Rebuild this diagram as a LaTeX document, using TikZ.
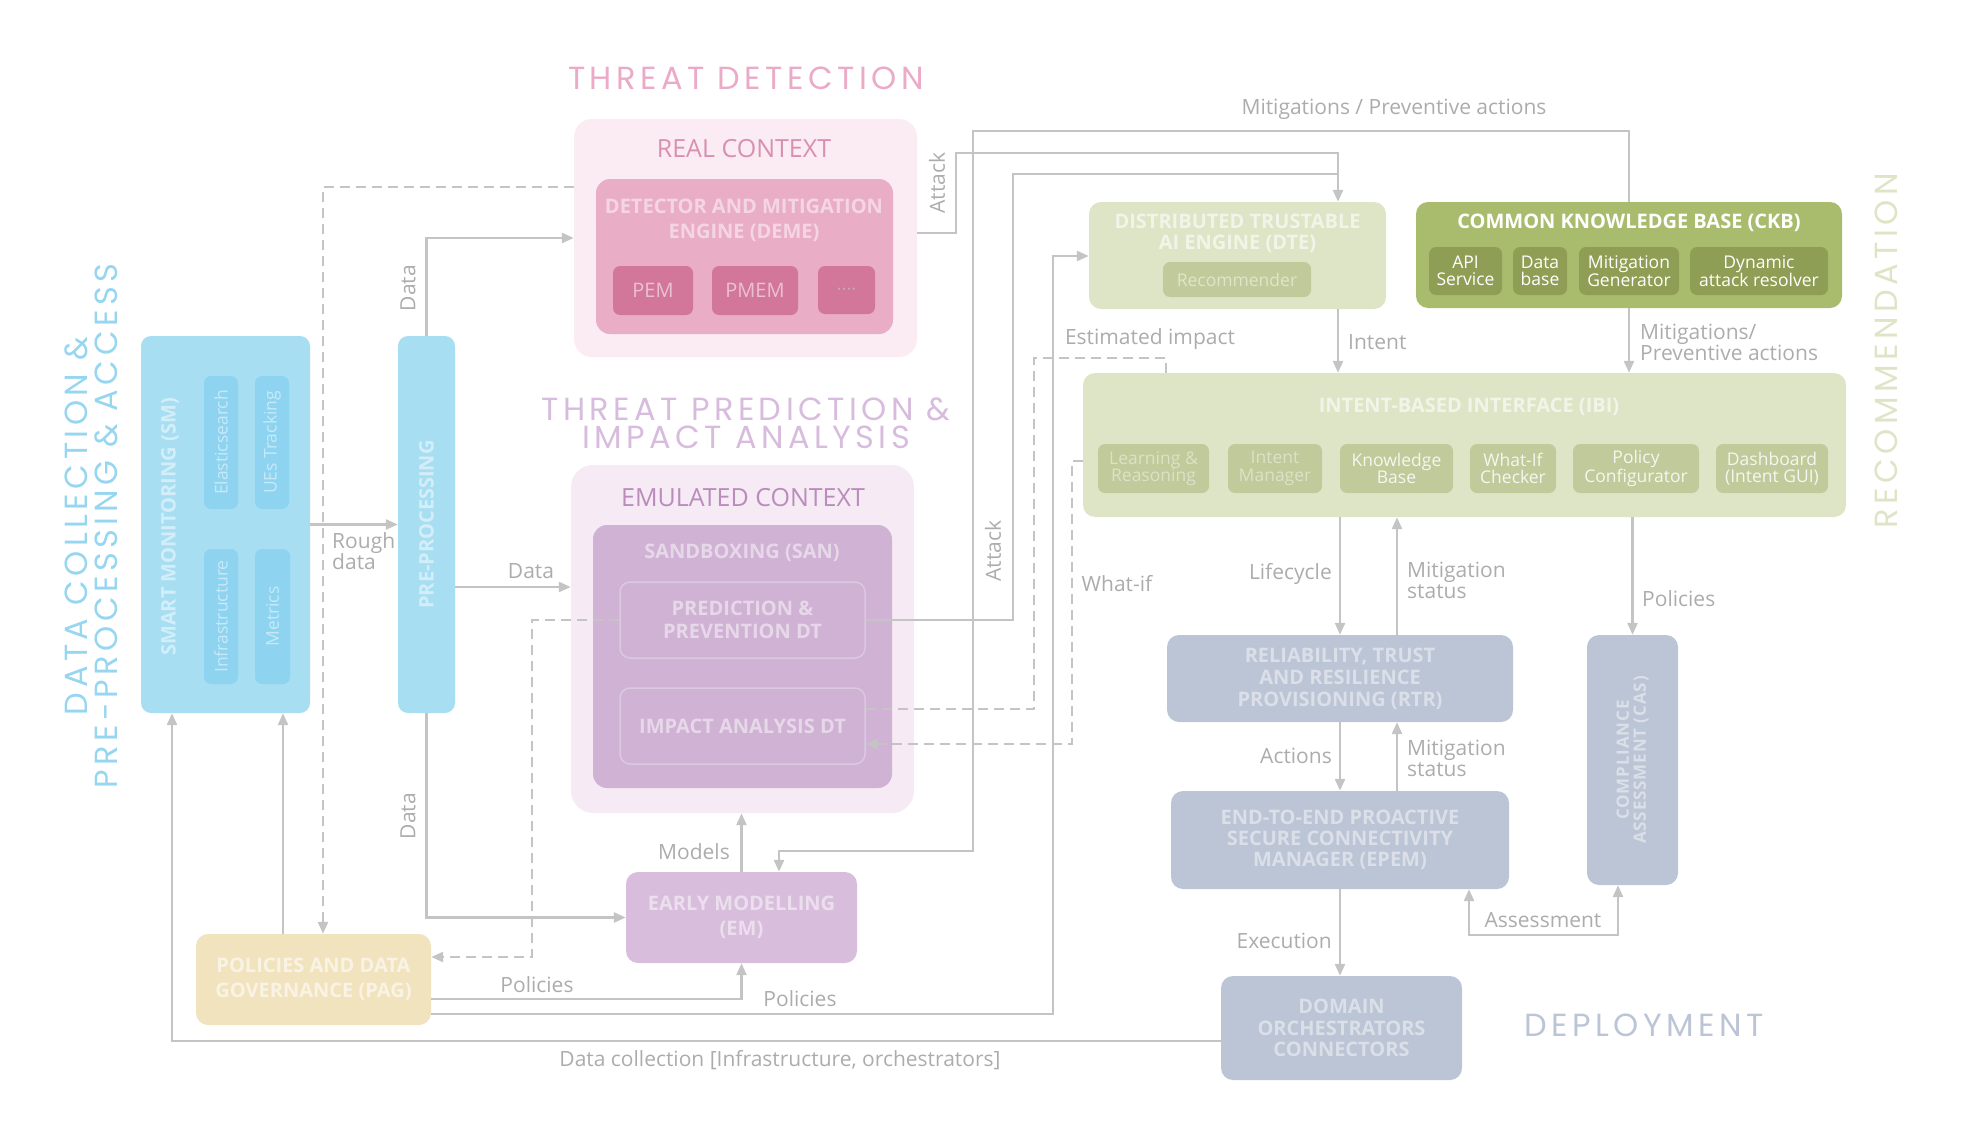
\documentclass[tikz,border=0pt]{standalone}
\usepackage{fontspec}
\setmainfont{Open Sans}
\newfontfamily\areafont[LetterSpace=14]{Poppins}
\newfontfamily\spacedfont[LetterSpace=5]{Open Sans}
\usepackage{tikz}
\usetikzlibrary{arrows.meta}
\definecolor{linegray}{RGB}{196,196,196}
\definecolor{labelgray}{RGB}{172,172,172}
\definecolor{tdpink}{RGB}{234,170,200}
\definecolor{tppurple}{RGB}{216,188,222}
\definecolor{dcblue}{RGB}{150,214,240}
\definecolor{recgreen}{RGB}{222,229,198}
\definecolor{depgray}{RGB}{188,197,214}
\definecolor{smblue}{RGB}{167,222,242}
\definecolor{sminner}{RGB}{142,212,240}
\definecolor{realfill}{RGB}{251,235,242}
\definecolor{realtext}{RGB}{217,143,176}
\definecolor{demefill}{RGB}{233,174,197}
\definecolor{pemfill}{RGB}{210,118,154}
\definecolor{dotgray}{RGB}{196,178,186}
\definecolor{emufill}{RGB}{246,234,244}
\definecolor{emutext}{RGB}{185,140,188}
\definecolor{sanfill}{RGB}{208,178,212}
\definecolor{dtline}{RGB}{220,200,224}
\definecolor{emfill}{RGB}{216,190,220}
\definecolor{pagfill}{RGB}{242,227,191}
\definecolor{recfill}{RGB}{222,229,198}
\definecolor{recsub}{RGB}{192,202,154}
\definecolor{ckbfill}{RGB}{169,188,110}
\definecolor{ckbsub}{RGB}{142,158,85}
\definecolor{depfill}{RGB}{188,197,214}
\tikzset{
  box-text/.style={text=white, text opacity=0.5, font=\fontsize{20}{22}\selectfont\bfseries,
    align=center, inner sep=0pt},
  core-node/.style={box-text, rounded corners=12pt},
  ctx-box/.style={rounded corners=18pt, inner sep=0pt},
  ctx-label/.style={font=\fontsize{25}{25}\selectfont, inner sep=0pt},
  sub-node/.style={rounded corners=7pt, inner sep=0pt, align=center, text=white,
    font=\fontsize{17.5}{17.5}\selectfont},
  flow-line/.style={line width=2.6pt, draw=linegray},
  flow-arrow/.style={flow-line, -{Triangle[length=12pt,width=10pt]}},
  dash-line/.style={flow-line, dash pattern=on 10pt off 6pt},
  dash-arrow/.style={flow-arrow, dash pattern=on 10pt off 6pt},
  edge-label/.style={font=\fontsize{21}{21}\selectfont, text=labelgray, inner sep=0pt, align=left},
  area-title/.style={font=\areafont\fontsize{32}{30}\selectfont, align=center, inner sep=0pt}
}
\begin{document}
\begin{tikzpicture}[x=1pt, y=-1pt]
\useasboundingbox (0,0) rectangle (1965,1148);

% Area titles
\node[area-title, text=tdpink] (tdtitle) at (746,78) {THREAT DETECTION};
\node[area-title, text=tppurple, text height=22pt, text depth=0pt] (tptitlea) at (746,409) {THREAT PREDICTION \&};
\node[area-title, text=tppurple, text height=22pt, text depth=0pt] (tptitleb) at (746,437) {IMPACT ANALYSIS};
\node[area-title, text=dcblue, rotate=90] (dctitle) at (91,526) {DATA COLLECTION \&\\PRE-PROCESSING \& ACCESS};
\node[area-title, text=recgreen, rotate=90] (rectitle) at (1886,351) {RECOMMENDATION};
\node[area-title, text=depgray] (deptitle) at (1644,1025) {DEPLOYMENT};

% Data collection and pre-processing
\node[core-node, fill=smblue, minimum width=169pt, minimum height=377pt, rounded corners=10pt] (sm) at (225.5,524.5) {};
\node[box-text, rotate=90] (smtxt) at (170,527) {SMART MONITORING (SM)};
\node[sub-node, fill=sminner, rotate=90, minimum width=133pt, minimum height=34pt, text opacity=0.5] (elastic) at (221,442.5) {Elasticsearch};
\node[sub-node, fill=sminner, rotate=90, minimum width=133pt, minimum height=34pt, text opacity=0.5] (uetrack) at (272,442.5) {UEs Tracking};
\node[sub-node, fill=sminner, rotate=90, minimum width=135pt, minimum height=34pt, text opacity=0.5] (infra) at (221,616.5) {Infrastructure};
\node[sub-node, fill=sminner, rotate=90, minimum width=135pt, minimum height=35pt, text opacity=0.5] (metrics) at (272.5,616.5) {Metrics};
\node[core-node, fill=smblue, minimum width=57pt, minimum height=377pt, rounded corners=10pt] (pre) at (426.5,524.5) {};
\node[box-text, rotate=90] (pretxt) at (pre.center) {PRE-PROCESSING};
\node[core-node, fill=pagfill, minimum width=235pt, minimum height=91pt, text opacity=0.6,
  font=\fontsize{20}{25}\selectfont\bfseries] (pag) at (313.5,979.5) {POLICIES AND DATA\\GOVERNANCE (PAG)};

% Threat detection
\node[ctx-box, fill=realfill, minimum width=343pt, minimum height=238pt] (realctx) at (745.5,238) {};
\node[ctx-label, text=realtext] (reallbl) at (744,149) {REAL CONTEXT};
\node[core-node, fill=demefill, minimum width=297pt, minimum height=155pt, rounded corners=14pt] (deme) at (744.5,256.5) {};
\node[box-text, font=\fontsize{20}{25}\selectfont\bfseries] (demetxt) at (744,220.5) {DETECTOR AND MITIGATION\\ENGINE (DEME)};
\node[sub-node, fill=pemfill, minimum width=80pt, minimum height=49pt, text opacity=0.55, font=\fontsize{20}{20}\selectfont] (pem) at (653,290.5) {PEM};
\node[sub-node, fill=pemfill, minimum width=86pt, minimum height=49pt, text opacity=0.55, font=\fontsize{20}{20}\selectfont] (pmem) at (755,290.5) {PMEM};
\node[sub-node, fill=pemfill, minimum width=57pt, minimum height=48pt, text=dotgray, font=\fontsize{9}{9}\selectfont] (moreeng) at (846.5,290) {\textbullet\,\textbullet\,\textbullet\,\textbullet};

% Threat prediction and impact analysis
\node[ctx-box, fill=emufill, minimum width=343pt, minimum height=348pt, rounded corners=22pt] (emuctx) at (742.5,639) {};
\node[ctx-label, text=emutext] (emulbl) at (743,498) {EMULATED CONTEXT};
\node[core-node, fill=sanfill, minimum width=299pt, minimum height=263pt, rounded corners=14pt] (san) at (742.5,656.5) {};
\node[box-text] (santxt) at (742,553) {SANDBOXING (SAN)};
\node[core-node, draw=dtline, line width=1.5pt, minimum width=245pt, minimum height=76pt, rounded corners=10pt,
  font=\fontsize{20}{23}\selectfont\bfseries] (ppdt) at (742.5,620) {PREDICTION \&\\PREVENTION DT};
\node[core-node, draw=dtline, line width=1.5pt, minimum width=245pt, minimum height=76pt, rounded corners=10pt] (iadt) at (742.5,726) {IMPACT ANALYSIS DT};
\node[core-node, fill=emfill, minimum width=231pt, minimum height=91pt,
  font=\fontsize{20}{25}\selectfont\bfseries] (em) at (741.5,917.5) {EARLY MODELLING\\(EM)};

% Recommendation
\node[core-node, fill=recfill, minimum width=297pt, minimum height=107pt] (dte) at (1237.5,255.5) {};
\node[box-text, text opacity=0.6, font=\fontsize{20}{21}\selectfont\bfseries] (dtetxt) at (1237.5,233.5) {DISTRIBUTED TRUSTABLE\\AI ENGINE (DTE)};
\node[sub-node, fill=recsub, minimum width=148pt, minimum height=35pt, text opacity=0.5] (recom) at (1237,279.5) {Recommender};
\node[core-node, fill=ckbfill, minimum width=426pt, minimum height=106pt] (ckb) at (1629,255) {};
\node[box-text, text opacity=1] (ckbtxt) at (1629,223) {COMMON KNOWLEDGE BASE (CKB)};
\node[sub-node, fill=ckbsub, minimum width=73pt, minimum height=48pt] (apisrv) at (1465.5,271) {API\\Service};
\node[sub-node, fill=ckbsub, minimum width=54pt, minimum height=48pt] (database) at (1540,271) {Data\\base};
\node[sub-node, fill=ckbsub, minimum width=100pt, minimum height=48pt] (mitgen) at (1629,271) {Mitigation\\Generator};
\node[sub-node, fill=ckbsub, minimum width=138pt, minimum height=48pt] (dynres) at (1759,271) {Dynamic\\attack resolver};
\node[core-node, fill=recfill, minimum width=763pt, minimum height=144pt] (ibi) at (1464.5,445) {};
\node[box-text, text opacity=0.6] (ibitxt) at (1469,407) {INTENT-BASED INTERFACE (IBI)};
\node[sub-node, fill=recsub, minimum width=111pt, minimum height=49pt, text opacity=0.45] (learn) at (1153.5,468.5) {Learning \&\\Reasoning};
\node[sub-node, fill=recsub, minimum width=94pt, minimum height=49pt, text opacity=0.45] (intman) at (1275,468.5) {Intent\\Manager};
\node[sub-node, fill=recsub, minimum width=113pt, minimum height=49pt, text opacity=0.85] (kbase) at (1396.5,468.5) {Knowledge\\Base};
\node[sub-node, fill=recsub, minimum width=86pt, minimum height=49pt, text opacity=0.85] (whatif) at (1513,468.5) {What-If\\Checker};
\node[sub-node, fill=recsub, minimum width=126pt, minimum height=49pt, text opacity=0.85] (polconf) at (1636,468.5) {Policy\\Configurator};
\node[sub-node, fill=recsub, minimum width=112pt, minimum height=49pt, text opacity=0.85] (dashgui) at (1772,468.5) {Dashboard\\(Intent GUI)};

% Deployment
\node[core-node, fill=depfill, minimum width=346pt, minimum height=87pt, text opacity=0.45] (rtr) at (1340,678.5) {RELIABILITY, TRUST\\AND RESILIENCE\\PROVISIONING (RTR)};
\node[core-node, fill=depfill, minimum width=338pt, minimum height=98pt, text opacity=0.45,
  font=\fontsize{20}{21}\selectfont\bfseries] (epem) at (1340,840) {END-TO-END PROACTIVE\\SECURE CONNECTIVITY\\MANAGER (EPEM)};
\node[core-node, fill=depfill, minimum width=241pt, minimum height=104pt, text opacity=0.45,
  font=\fontsize{20}{21.5}\selectfont\bfseries] (doc) at (1341.5,1028) {DOMAIN\\ORCHESTRATORS\\CONNECTORS};
\node[core-node, fill=depfill, minimum width=91pt, minimum height=250pt] (cas) at (1632.5,760) {};
\node[box-text, rotate=90, text opacity=0.45, font=\spacedfont\fontsize{17}{17}\selectfont\bfseries] (castxt) at (cas.center) {COMPLIANCE\\ASSESSMENT (CAS)};

% Connectors: data collection side
\draw[flow-arrow] (sm.east) -- (pre.west);
\draw[flow-arrow] (pre.north) |- (realctx.west);
\draw[flow-arrow] (pre.east |- 0,587) -- (emuctx.west |- 0,587);
\draw[flow-arrow] (pre.south) |- (em.west);
\draw[dash-arrow] (realctx.west |- 0,187) -| ([xshift=9.5pt]pag.north);
\draw[dash-arrow] (ppdt.west) -| (532,957) -- (pag.east |- 0,957);
\draw[flow-arrow] (pag.north -| 283,0) -- (sm.south -| 283,0);
\draw[flow-arrow] (doc.west |- 0,1041) -| (sm.south -| 172,0);
\draw[flow-arrow] (pag.east |- 0,999) -| (em.south);
\draw[flow-arrow] (pag.east |- 0,1014) -| (1053,256) -- (dte.west |- 0,256);
\draw[flow-arrow] (em.north) -- (em.north |- emuctx.south);

% Connectors: threat paths towards recommendation
\coordinate (atkjoin) at (1338,174);
\draw[flow-arrow] (realctx.east |- 0,233) -| (956,153) -| (dte.north -| atkjoin);
\draw[flow-line] (ppdt.east) -| (1013,174) -- (atkjoin);
\draw[flow-arrow] (ckb.north) |- (973,131) |- (779,851) -- (em.north -| 779,0);
\draw[dash-line] (iadt.east |- 0,709) -| (1034,358) -| (ibi.north -| 1166,0);
\draw[dash-arrow] (ibi.west |- 0,461) -| (1072,744) -- (iadt.east |- 0,744);
\draw[flow-arrow] (dte.south -| atkjoin) -- (ibi.north -| atkjoin);
\draw[flow-arrow] (ckb.south) -- (ibi.north -| ckb.south);

% Connectors: deployment
\draw[flow-arrow] (ibi.south -| rtr.north) -- (rtr.north);
\draw[flow-arrow] (rtr.north -| 1397,0) -- (ibi.south -| 1397,0);
\draw[flow-arrow] (rtr.south) -- (epem.north);
\draw[flow-arrow] (epem.north -| 1397,0) -- (rtr.south -| 1397,0);
\draw[flow-arrow] (ibi.south -| cas.north) -- (cas.north);
\draw[flow-arrow] (epem.south) -- (epem.south |- doc.north);
\draw[flow-arrow, {Triangle[length=12pt,width=10pt]}-{Triangle[length=12pt,width=10pt]}] (cas.south -| 1618,0) |- (1469,935) -- (epem.south -| 1469,0);

% Connector labels
\node[edge-label, anchor=west] (lblrough) at (332,551.5) {Rough\\data};
\node[edge-label, rotate=90] (lbldata1) at (408,288) {Data};
\node[edge-label] (lbldata2) at (531,571) {Data};
\node[edge-label, rotate=90] (lbldata3) at (408,816) {Data};
\node[edge-label, rotate=90] (lblatk1) at (937,183) {Attack};
\node[edge-label, rotate=90] (lblatk2) at (993,551) {Attack};
\node[edge-label] (lblmit1) at (1394,109) {Mitigations / Preventive actions};
\node[edge-label] (lblest) at (1150,339) {Estimated impact};
\node[edge-label] (lblwhat) at (1117,584) {What-if};
\node[edge-label, anchor=west] (lblintent) at (1348,342) {Intent};
\node[edge-label, anchor=west] (lblmit2) at (1640,342) {Mitigations/\\Preventive actions};
\node[edge-label, anchor=east] (lbllife) at (1332,574) {Lifecycle};
\node[edge-label, anchor=west] (lblstat1) at (1407,580) {Mitigation\\status};
\node[edge-label, anchor=east] (lblact) at (1332,756) {Actions};
\node[edge-label, anchor=west] (lblstat2) at (1407,758.5) {Mitigation\\status};
\node[edge-label, anchor=west] (lblpolcas) at (1642,599) {Policies};
\node[edge-label, anchor=east] (lblexec) at (1332,941) {Execution};
\node[edge-label] (lblassess) at (1543,920) {Assessment};
\node[edge-label, anchor=east] (lblmodels) at (730,852) {Models};
\node[edge-label] (lblpolem) at (537,985) {Policies};
\node[edge-label] (lblpoldte) at (800,999) {Policies};
\node[edge-label] (lblcollect) at (780,1060) {Data collection [Infrastructure, orchestrators]};
\end{tikzpicture}
\end{document}
